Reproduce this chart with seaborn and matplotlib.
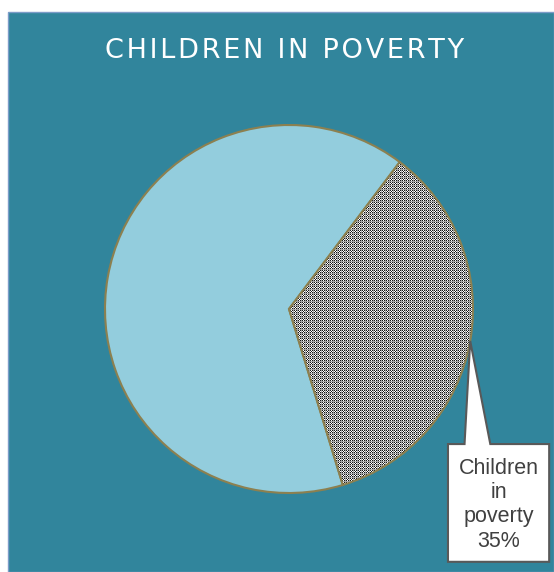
import numpy as np
import matplotlib
matplotlib.use("Agg")
import matplotlib.pyplot as plt
import seaborn as sns
from matplotlib.patches import Rectangle, Polygon

sns.set_theme(style="white")
plt.rcParams['font.family'] = ['Liberation Sans', 'DejaVu Sans']

labels = ['Children in poverty', 'Other']
values = [35, 65]
title = 'CHILDREN IN POVERTY'

teal = '#31859C'
light_blue = '#93CDDD'
edge = '#8C8050'

fig = plt.figure(figsize=(5.54, 5.72), dpi=100)
fig.patch.set_facecolor('white')
fig.add_artist(Rectangle((8 / 554, 0), 1 - 8 / 554, 1 - 12 / 572, transform=fig.transFigure,
                         facecolor=teal, edgecolor='#7C9CC8', lw=1, zorder=0))

ax = fig.add_axes([0, 0, 1, 1])
ax.patch.set_alpha(0)
wedges, _ = ax.pie(values, startangle=53, counterclock=False, radius=1,
                   colors=['white', light_blue],
                   wedgeprops=dict(edgecolor=edge, linewidth=1.5))

# checkered fill for the poverty slice
n = 368
yy, xx = np.mgrid[0:n, 0:n]
tex = np.where((xx + yy) % 2 == 0, 0.1, 1.0)
grid = (xx % 4 == 0) | (yy % 4 == 0)
tex[grid] = 0.65
im = ax.imshow(tex, cmap='gray', vmin=0, vmax=1, extent=(-1, 1, -1, 1),
               interpolation='nearest', zorder=1.5)
im.set_clip_path(wedges[0])
wedges[0].set_facecolor('none')
wedges[0].set_zorder(2)

ax.set_xlim(-289 / 184, (554 - 289) / 184)
ax.set_ylim(-(572 - 309) / 184, 309 / 184)
ax.set_aspect('auto')
ax.axis('off')

# callout pointing at the middle of the poverty slice
w = wedges[0]
mid = np.deg2rad((w.theta1 + w.theta2) / 2)
tip = (np.cos(mid), np.sin(mid))
cx, cy, bw, bh = 1.139, -1.054, 0.55, 0.64
l, r, t, b = cx - bw / 2, cx + bw / 2, cy + bh / 2, cy - bh / 2
notch_l, notch_r = l + 0.09, l + 0.23
callout = Polygon([(l, t), (notch_l, t), tip, (notch_r, t), (r, t), (r, b), (l, b)],
                  closed=True, facecolor='white', edgecolor='#595959', lw=1.5, zorder=3)
ax.add_patch(callout)
ax.text(cx, cy - 0.01, 'Children\nin\npoverty\n35%', ha='center', va='center',
        fontsize=15.5, color='#404040', linespacing=1.2, zorder=4)

# letter-spaced title
spaced = '\u200a'.join(title)
fig.text(285 / 554, 1 - 51 / 572, spaced, ha='center', va='center',
         color='white', fontsize=19.5, family=['DejaVu Sans'])

fig.savefig('out.png', dpi=100, facecolor=fig.get_facecolor())
